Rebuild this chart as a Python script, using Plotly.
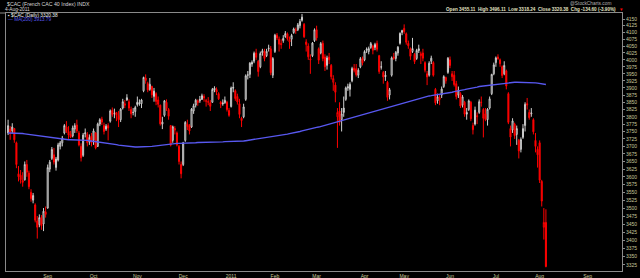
import math
import plotly.graph_objects as go
import pandas as pd

# ---------------- data (CAC 40 daily, 5-Aug-2010 .. 4-Aug-2011) ----------------
open_ = [
    3745,3758,3752,3760,3712,3610,3605,3588,3590,3640,3612,3550,3525,3510,3460,3448,3470,3450,3488,  # Aug
    3500,3625,3660,3672,3630,3655,3700,3712,3745,3765,3750,3740,3735,3758,3772,3745,3700,3670,3742,3740,3715,3735,  # Sep
    3720,3745,3700,3775,3792,3770,3758,3770,3785,3822,3810,3815,3805,3790,3830,3845,3858,3852,3825,3815,3818,  # Oct
    3850,3845,3845,3890,3935,3915,3895,3905,3870,3880,3858,3840,3775,3805,3850,3825,3770,3720,3755,3745,3700,3640,  # Nov
    3640,3720,3775,3770,3765,3820,3840,3855,3855,3860,3870,3855,3850,3848,3850,3892,3895,3880,3850,3848,3848,3850,3822,  # Dec
    3835,3902,3890,3870,3845,3795,3800,3860,3945,3948,3985,3995,4025,3995,3975,4025,4030,4015,4040,4040,3945,  # Jan
    4030,4090,4075,4060,4070,4085,4095,4065,4075,4100,4110,4110,4125,4145,4130,4065,4050,4000,4015,4070,  # Feb
    4110,4040,4025,4060,4010,3980,4010,3980,3920,3910,3800,3820,3790,3830,3860,3900,3895,3925,3970,3968,3945,3975,4005,  # Mar
    4000,4035,4030,4045,4050,4045,4060,4015,3975,3955,3945,3920,3875,3945,4010,4005,4025,4060,4100,  # Apr
    4115,4095,4060,4040,4030,4020,4005,4040,4015,4025,3990,3950,3945,3995,3990,3895,3855,3860,3875,3905,3925,3955,  # May
    4000,3950,3945,3915,3875,3880,3840,3850,3815,3825,3850,3770,3775,3800,3815,3850,3825,3810,3790,3830,3880,3950,  # Jun
    3990,4010,4000,3975,3950,3960,3880,3760,3755,3775,3740,3720,3690,3730,3770,3845,3815,3810,3790,3720,3690,  # Jul
    3712,3585,3440,3455,  # Aug
]
high = [
    3790,3768,3778,3762,3716,3635,3622,3615,3650,3655,3620,3560,3548,3515,3475,3480,3478,3500,3505,
    3640,3655,3698,3695,3665,3712,3718,3735,3775,3785,3768,3752,3770,3778,3790,3752,3710,3745,3760,3748,3740,3745,
    3760,3748,3780,3795,3800,3780,3775,3778,3825,3832,3828,3815,3820,3830,3862,3858,3878,3860,3835,3830,3838,
    3870,3860,3862,3940,3948,3922,3935,3908,3900,3885,3870,3842,3800,3858,3860,3830,3772,3770,3768,3750,3705,3650,
    3715,3785,3790,3775,3830,3845,3862,3860,3872,3880,3878,3862,3868,3858,3900,3906,3902,3885,3855,3860,3870,3855,3830,
    3905,3920,3895,3880,3862,3800,3845,3948,3960,3992,3998,4030,4040,4000,4030,4040,4040,4040,4055,4050,4010,
    4095,4098,4085,4075,4090,4105,4100,4085,4095,4118,4118,4135,4150,4169,4135,4075,4060,4020,4065,4115,
    4125,4045,4065,4070,4020,4015,4025,3985,3945,3920,3830,3850,3830,3870,3905,3915,3920,3975,3985,3985,3970,4010,4012,
    4035,4045,4048,4065,4055,4062,4070,4018,3995,3960,3960,3925,3900,4012,4025,4032,4050,4100,4110,
    4130,4100,4070,4045,4080,4025,4040,4055,4030,4040,3995,3960,3995,4015,3995,3900,3880,3875,3905,3945,3940,4010,
    4012,3960,3960,3925,3905,3885,3875,3855,3830,3860,3855,3780,3835,3815,3860,3870,3830,3830,3830,3870,3950,3990,
    4012,4020,4005,3980,3995,3965,3885,3770,3795,3780,3770,3725,3730,3775,3850,3865,3825,3830,3795,3745,3700,
    3720,3590,3500,3496,
]
low = [
    3738,3722,3745,3712,3628,3585,3578,3568,3588,3600,3560,3520,3515,3455,3405,3440,3432,3428,3470,
    3498,3615,3655,3640,3620,3650,3690,3700,3740,3745,3725,3728,3730,3745,3745,3700,3650,3665,3730,3700,3705,3700,
    3705,3690,3698,3768,3772,3740,3752,3720,3780,3800,3795,3785,3765,3782,3825,3830,3855,3820,3795,3805,3800,
    3835,3838,3830,3885,3915,3885,3890,3865,3852,3840,3832,3770,3758,3800,3820,3790,3700,3712,3740,3700,3640,3595,
    3635,3715,3755,3740,3762,3810,3832,3838,3848,3858,3852,3835,3840,3820,3848,3885,3875,3858,3830,3838,3845,3818,3800,
    3832,3885,3855,3842,3795,3765,3795,3855,3930,3935,3975,3988,4000,3940,3970,4015,3995,4010,4030,3945,3935,
    4025,4072,4030,4040,4062,4080,4070,4040,4050,4095,4095,4105,4115,4140,4080,4030,4000,3950,4010,4065,
    4070,3985,4020,3995,3960,3965,3985,3930,3890,3850,3695,3770,3750,3800,3855,3890,3870,3920,3955,3940,3935,3970,3980,
    3995,4025,4020,4040,4020,4035,4030,3950,3965,3915,3925,3855,3860,3940,4000,3995,4015,4055,4090,
    4095,4055,4040,4000,4025,3985,4000,4025,3985,3995,3955,3910,3940,3985,3940,3840,3845,3840,3865,3900,3915,3950,
    3970,3925,3905,3860,3865,3830,3832,3800,3790,3820,3785,3740,3770,3775,3810,3835,3730,3785,3770,3825,3875,3945,
    3975,4000,3975,3935,3945,3895,3775,3700,3745,3725,3705,3660,3680,3725,3750,3825,3790,3800,3740,3680,3630,
    3580,3505,3402,3318,
]
close = [
    3770,3748,3765,3722,3640,3600,3590,3582,3640,3615,3568,3530,3540,3462,3440,3470,3445,3490,3480,
    3630,3648,3690,3648,3658,3705,3712,3728,3770,3750,3738,3732,3762,3770,3752,3705,3662,3738,3745,3712,3730,3712,
    3752,3695,3775,3790,3782,3750,3768,3762,3820,3808,3812,3805,3790,3826,3852,3840,3866,3830,3810,3815,3832,
    3842,3848,3858,3937,3926,3893,3913,3876,3889,3853,3843,3776,3782,3855,3828,3802,3704,3766,3760,3705,3650,3610,
    3712,3781,3767,3752,3826,3838,3857,3849,3860,3873,3866,3854,3852,3836,3895,3899,3886,3862,3844,3845,3857,3825,3805,
    3900,3900,3863,3851,3808,3787,3834,3943,3946,3988,3991,4024,4009,3958,4023,4033,4005,4031,4042,3954,4005,
    4090,4080,4057,4055,4078,4096,4077,4075,4089,4113,4107,4128,4141,4157,4084,4056,4011,4003,4061,4110,
    4080,3999,4059,4005,3975,4007,4000,3940,3933,3885,3815,3781,3810,3815,3900,3904,3913,3969,3963,3947,3963,4004,3989,
    4030,4038,4041,4059,4035,4056,4038,3958,3974,3939,3940,3867,3894,4007,4006,4027,4046,4097,4107,
    4103,4064,4051,4013,4041,3994,4034,4034,4022,4006,3963,3939,3988,4006,3945,3848,3869,3866,3896,3940,3937,4006,
    3980,3940,3912,3870,3892,3837,3869,3809,3809,3855,3793,3756,3823,3803,3852,3849,3795,3791,3826,3862,3948,3982,
    4007,4005,3986,3944,3980,3907,3781,3731,3786,3736,3760,3685,3723,3760,3843,3841,3797,3813,3749,3700,3672,
    3589,3522,3455,3320.38,
]
ma200 = [
    3745,3745,3744,3744,3744,3744,3743,3743,3742,3741,3740,
    3739,3738,3737,3736,3735,3734,3732,3731,3730,3729,
    3728,3727,3726,3725,3724,3724,3723,3723,3722,3722,
    3722,3721,3721,3721,3720,3720,3720,3720,3719,3718,
    3717,3717,3716,3715,3715,3714,3713,3712,3710,3709,
    3707,3706,3704,3703,3702,3701,3700,3699,3699,3698,
    3698,3698,3698,3698,3699,3699,3699,3700,3700,3701,
    3702,3703,3704,3705,3706,3707,3708,3709,3710,3710,
    3710,3710,3710,3710,3710,3710,3711,3711,3712,3712,
    3713,3713,3713,3713,3714,3714,3714,3714,3715,3715,
    3715,3715,3715,3716,3716,3716,3716,3716,3716,3716,
    3717,3717,3718,3719,3720,3721,3722,3723,3724,3725,
    3726,3727,3728,3729,3730,3731,3732,3733,3734,3735,
    3737,3738,3740,3741,3743,3744,3746,3747,3749,3750,
    3752,3754,3755,3757,3759,3760,3762,3764,3765,3767,
    3769,3771,3773,3775,3777,3779,3781,3783,3785,3787,
    3789,3791,3793,3795,3797,3799,3801,3803,3805,3807,
    3809,3811,3813,3815,3818,3820,3822,3824,3826,3828,
    3830,3832,3834,3836,3838,3840,3842,3845,3847,3850,
    3852,3854,3856,3858,3860,3862,3864,3866,3867,3869,
    3870,3872,3873,3874,3875,3876,3877,3878,3879,3881,
    3882,3884,3885,3887,3888,3890,3891,3893,3894,3896,
    3897,3899,3900,3902,3903,3905,3906,3907,3908,3909,
    3910,3911,3912,3913,3914,3915,3916,3917,3918,3918,
    3919,3919,3920,3920,3920,3920,3920,3920,3920,3920,
    3919,3919,3918,3917,3916,3915,3913,3912,
]
y_ticks = [3325,3350,3375,3400,3425,3450,3475,3500,3525,3550,3575,3600,3625,3650,3675,3700,
           3725,3750,3775,3800,3825,3850,3875,3900,3925,3950,3975,4000,4025,4050,4075,4100,4125,4150]
month_labels = ["Sep","Oct","Nov","Dec","2011","Feb","Mar","Apr","May","Jun","Jul","Aug","Sep"]
title_text = "$CAC (French CAC 40 Index) INDX"
date_text = "4-Aug-2011"
legend_price = "$CAC (Daily) 3320.38"
legend_ma = "MA(200) 3913.79"
ohlc_text = "Open 3455.11  High 3496.11  Low 3318.24  Close 3320.38  Chg -134.60 (-3.90%)"
brand_text = "@StockCharts.com"

# ---------------- axis positions (trading days) ----------------
holidays = {"2011-04-22", "2011-04-25"}
dates = [d for d in pd.bdate_range("2010-08-05", "2011-08-04") if d.strftime("%Y-%m-%d") not in holidays]
future = list(pd.bdate_range("2011-08-05", "2011-09-30"))
n = min(len(dates), len(close), len(open_), len(high), len(low))
xs = list(range(n))
axis_dates = dates + future
tick_x = [i for i in range(1, len(axis_dates)) if axis_dates[i].month != axis_dates[i - 1].month]

GRAY = "#cfcfcf"
RED = "#ff0000"
BLUE = "#5858f0"
AXIS = "#8a8a8a"
TICK = "#c8c89a"
TXT = "#d8d8d8"
FONT = "Liberation Sans"

gray_idx = [i for i in xs if i == 0 or close[i] >= close[i - 1]]
red_idx = [i for i in xs if i > 0 and close[i] < close[i - 1]]
pick = lambda arr, ids: [arr[i] for i in ids]

fig = go.Figure()
fig.add_trace(go.Scatter(x=xs, y=ma200[:n], mode="lines", line=dict(color=BLUE, width=1.4),
                         hoverinfo="skip", showlegend=False))
for ids, col in ((gray_idx, GRAY), (red_idx, RED)):
    fig.add_trace(go.Candlestick(
        x=ids, open=pick(open_, ids), high=pick(high, ids), low=pick(low, ids), close=pick(close, ids),
        increasing=dict(line=dict(color=col, width=1), fillcolor="#000000"),
        decreasing=dict(line=dict(color=col, width=1), fillcolor=col),
        whiskerwidth=0, showlegend=False, hoverinfo="skip"))

L, R, T, B = 6, 622, 13, 271
W, H = 640, 278
def px(x): return (x - L) / (R - L)
def py(y): return 1 - (y - T) / (B - T)

ann = []
def text(x, y, s, color=TXT, size=5, anchor="left", bold=False):
    ann.append(dict(x=px(x), y=py(y), xref="paper", yref="paper", text=("<b>%s</b>" % s) if bold else s,
                    showarrow=False, xanchor=anchor, yanchor="middle",
                    font=dict(family=FONT, size=size, color=color)))
text(5, 4, title_text, size=5.2)
text(3, 9.3, date_text, size=4.8)
text(6, 15.5, "\u25aa " + legend_price, color="#f0f0f0", size=4.8)
text(6, 19.5, "\u2014 " + legend_ma, color=BLUE, size=4.8)
text(613, 4, brand_text, color="#b0b0b0", size=4.8, anchor="right")
text(618, 9.6, ohlc_text, color="#e0e0c0", size=4.6, anchor="right", bold=True)
text(620.5, 10, "\u25bc", color=RED, size=4.5, anchor="center")

fig.update_layout(
    width=W, height=H, margin=dict(l=L, r=W - R, t=T, b=H - B, autoexpand=False),
    paper_bgcolor="#000000", plot_bgcolor="#000000", showlegend=False,
    annotations=ann,
    shapes=[dict(type="line", xref="paper", yref="paper", x0=px(0), x1=0, y0=1, y1=1,
                 line=dict(color=AXIS, width=1))],
    xaxis=dict(range=[-1, 294.5], tickmode="array", tickvals=tick_x, ticktext=month_labels,
               showgrid=False, zeroline=False, showline=True, linecolor=AXIS, linewidth=1, mirror=True,
               ticks="", tickfont=dict(family=FONT, size=5, color=TICK), automargin=False,
               rangeslider=dict(visible=False), fixedrange=True),
    yaxis=dict(type="log", range=[math.log10(3307), math.log10(4172.5)], side="right",
               tickmode="array", tickvals=y_ticks, ticktext=[str(v) for v in y_ticks],
               showgrid=False, zeroline=False, showline=True, linecolor=AXIS, linewidth=1, mirror=True,
               ticks="outside", ticklen=2, tickcolor=AXIS, automargin=False,
               tickfont=dict(family=FONT, size=5, color=TICK), fixedrange=True),
)
fig.write_html("out.html")
